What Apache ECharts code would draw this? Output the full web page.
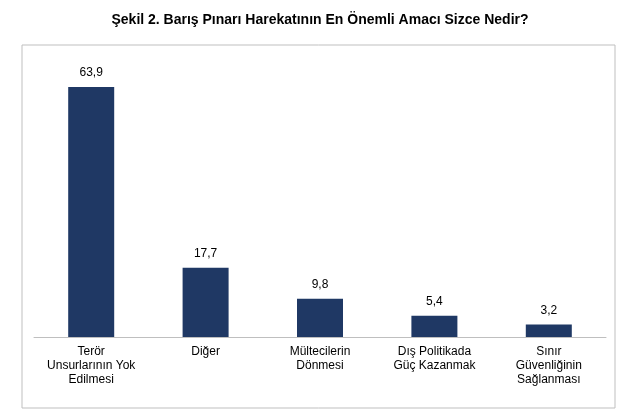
<!DOCTYPE html>
<html><head><meta charset="utf-8">
<script src="https://cdn.jsdelivr.net/npm/echarts@6/dist/echarts.min.js"></script>
<style>html,body{margin:0;background:#fff}#c{width:640px;height:420px}</style>
</head><body><div id="c"></div>
<script>
const categories = ['Terör\nUnsurlarının Yok\nEdilmesi','Diğer','Mültecilerin\nDönmesi','Dış Politikada\nGüç Kazanmak','Sınır\nGüvenliğinin\nSağlanması'];
const values = [63.9, 17.7, 9.8, 5.4, 3.2];
const chart = echarts.init(document.getElementById('c'));
chart.setOption({
  animation:false,
  title:{text:'Şekil 2. Barış Pınarı Harekatının En Önemli Amacı Sizce Nedir?',left:'center',top:8,
    textStyle:{fontFamily:'Liberation Sans',fontSize:14,fontWeight:'bold',color:'#000'}},
  graphic:[{type:'rect',shape:{x:22,y:45,width:593,height:363},style:{fill:'none',stroke:'#bfbfbf',lineWidth:1}}],
  grid:{left:34,right:34,top:63,bottom:83},
  xAxis:{type:'category',data:categories,axisTick:{show:false},
    axisLine:{lineStyle:{color:'#bfbfbf'}},
    axisLabel:{interval:0,fontFamily:'Liberation Sans',fontSize:12,color:'#000',lineHeight:14,margin:8}},
  yAxis:{type:'value',min:0,max:70,show:false},
  series:[{type:'bar',data:values,barWidth:46,itemStyle:{color:'#1f3864'},
    label:{show:true,position:'top',distance:8,fontFamily:'Liberation Sans',fontSize:12,color:'#000',
      formatter:p=>String(p.value).replace('.',',')}}]
});
</script></body></html>
